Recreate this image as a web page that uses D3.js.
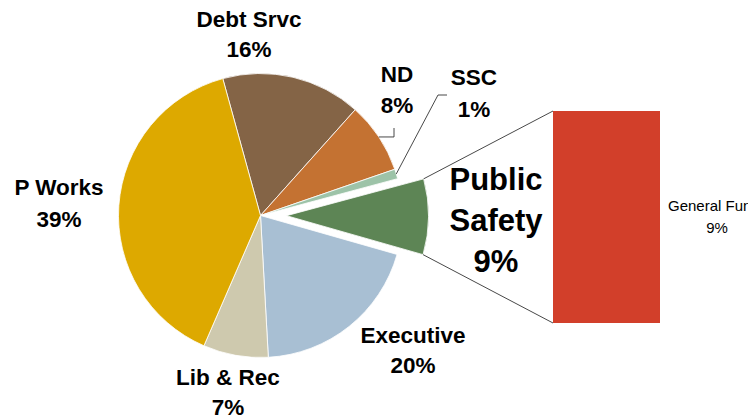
<!DOCTYPE html>
<html>
<head>
<meta charset="utf-8">
<script src="https://cdn.jsdelivr.net/npm/d3@7"></script>
<style>
  body { margin: 0; background: #fff; }
  svg { display: block; font-family: "Liberation Sans", Arial, sans-serif; }
</style>
</head>
<body>
<div id="chart"></div>
<script>
// ***Data***
var categories = ["Debt Srvc", "ND", "SSC", "Public Safety", "Executive", "Lib & Rec", "P Works"];
var shares = [15.9, 8.1, 1.1, 8.6, 19.7, 7.4, 39.2];
var colors = ["#846446", "#C47232", "#9DC3A8", "#5D8555", "#A8BFD3", "#CEC9AE", "#DDA900"];
var barCategories = ["General Fund"];
var barShares = [8.6];
var barColors = ["#D23F2A"];
var splitCategory = "Public Safety";

function init() {
	var w = 748, h = 420;
	var cx = 260.5, cy = 215.5, r = 142, explode = 26;
	var start = -15.4 * Math.PI / 180;
	var total = d3.sum(shares);

	// label layout: x, first baseline, line gap, font size
	var labelPos = {
		"Debt Srvc": [249, 27, 30, 22.5],
		"ND": [397, 82, 31, 22.5],
		"SSC": [474, 85, 32, 22.5],
		"Public Safety": [496, 190, 41, 31],
		"Executive": [413, 343, 30, 22.5],
		"Lib & Rec": [228, 385, 30, 22.5],
		"P Works": [59, 195, 32, 22.5]
	};

	var svg = d3.select("#chart").append("svg")
		.attr("width", w)
		.attr("height", h);

	var pie = d3.pie()
		.sort(null)
		.value(function(d) { return d; })
		.startAngle(start)
		.endAngle(start + 2 * Math.PI);
	var arcs = pie(shares);

	var arc = d3.arc().innerRadius(0).outerRadius(r);

	function offsetOf(a, i) {
		if (categories[i] != splitCategory) return [0, 0];
		var m = (a.startAngle + a.endAngle) / 2;
		return [explode * Math.sin(m), -explode * Math.cos(m)];
	}

	svg.append("g")
		.attr("transform", "translate(" + cx + "," + cy + ")")
		.selectAll("path")
		.data(arcs)
		.enter()
		.append("path")
		.attr("d", arc)
		.attr("transform", function(d, i) {
			var o = offsetOf(d, i);
			return "translate(" + o[0] + "," + o[1] + ")";
		})
		.attr("fill", function(d, i) { return colors[i]; })
		.attr("stroke", "#fff")
		.attr("stroke-width", 0.8);

	// secondary bar
	var barX = d3.scaleBand().domain(barCategories).range([553, 660]);
	var barY = d3.scaleLinear().domain([0, d3.sum(barShares)]).range([323, 111]);
	var stacked = [];
	var acc = 0;
	barShares.forEach(function(v, i) {
		stacked.push({ name: barCategories[i], y0: acc, y1: acc + v, v: v });
		acc += v;
	});
	svg.selectAll("rect.bar")
		.data(stacked)
		.enter()
		.append("rect")
		.attr("class", "bar")
		.attr("x", function(d) { return barX(d.name); })
		.attr("width", barX.bandwidth())
		.attr("y", function(d) { return barY(d.y1); })
		.attr("height", function(d) { return barY(d.y0) - barY(d.y1); })
		.attr("fill", function(d, i) { return barColors[i]; });

	// connector lines from the split slice to the bar
	var si = categories.indexOf(splitCategory);
	var sa = arcs[si];
	var so = offsetOf(sa, si);
	function edgePoint(ang) {
		return [cx + so[0] + r * Math.sin(ang), cy + so[1] - r * Math.cos(ang)];
	}
	var pTop = edgePoint(sa.startAngle);
	var pBot = edgePoint(sa.endAngle);
	var bx = barX(barCategories[0]);
	svg.append("line")
		.attr("x1", pTop[0]).attr("y1", pTop[1])
		.attr("x2", bx).attr("y2", barY(d3.sum(barShares)))
		.attr("stroke", "#333").attr("stroke-width", 0.9);
	svg.append("line")
		.attr("x1", pBot[0]).attr("y1", pBot[1])
		.attr("x2", bx).attr("y2", barY(0))
		.attr("stroke", "#333").attr("stroke-width", 0.9);

	// leader lines for small slices
	function midPoint(i) {
		var m = (arcs[i].startAngle + arcs[i].endAngle) / 2;
		return [cx + r * Math.sin(m), cy - r * Math.cos(m)];
	}
	var ndP = midPoint(categories.indexOf("ND"));
	var sscP = midPoint(categories.indexOf("SSC"));
	svg.append("path")
		.attr("d", "M394,128 L394," + ndP[1] + " L" + ndP[0] + "," + ndP[1])
		.attr("fill", "none").attr("stroke", "#333").attr("stroke-width", 0.9);
	svg.append("path")
		.attr("d", "M447,95 L438,95 L" + sscP[0] + "," + sscP[1])
		.attr("fill", "none").attr("stroke", "#333").attr("stroke-width", 0.9);

	// pie labels
	var labels = svg.selectAll("g.lbl")
		.data(categories)
		.enter()
		.append("g")
		.attr("class", "lbl");
	labels.each(function(name, i) {
		var p = labelPos[name];
		var lines = name == "Public Safety" ? ["Public", "Safety"] : [name];
		lines.push(Math.round(shares[i] / total * 100) + "%");
		d3.select(this).selectAll("text")
			.data(lines)
			.enter()
			.append("text")
			.attr("x", p[0])
			.attr("y", function(d, k) { return p[1] + k * p[2]; })
			.attr("text-anchor", "middle")
			.attr("font-weight", "bold")
			.attr("font-size", p[3] + "px")
			.attr("fill", "#000")
			.text(function(d) { return d; });
	});

	// bar label
	svg.append("text")
		.attr("x", 668).attr("y", 211)
		.attr("font-size", "15px")
		.attr("fill", "#000")
		.text(barCategories[0]);
	svg.append("text")
		.attr("x", 717).attr("y", 233)
		.attr("text-anchor", "middle")
		.attr("font-size", "15px")
		.attr("fill", "#000")
		.text(Math.round(barShares[0] / total * 100) + "%");
}

window.onload = init;
</script>
</body>
</html>
